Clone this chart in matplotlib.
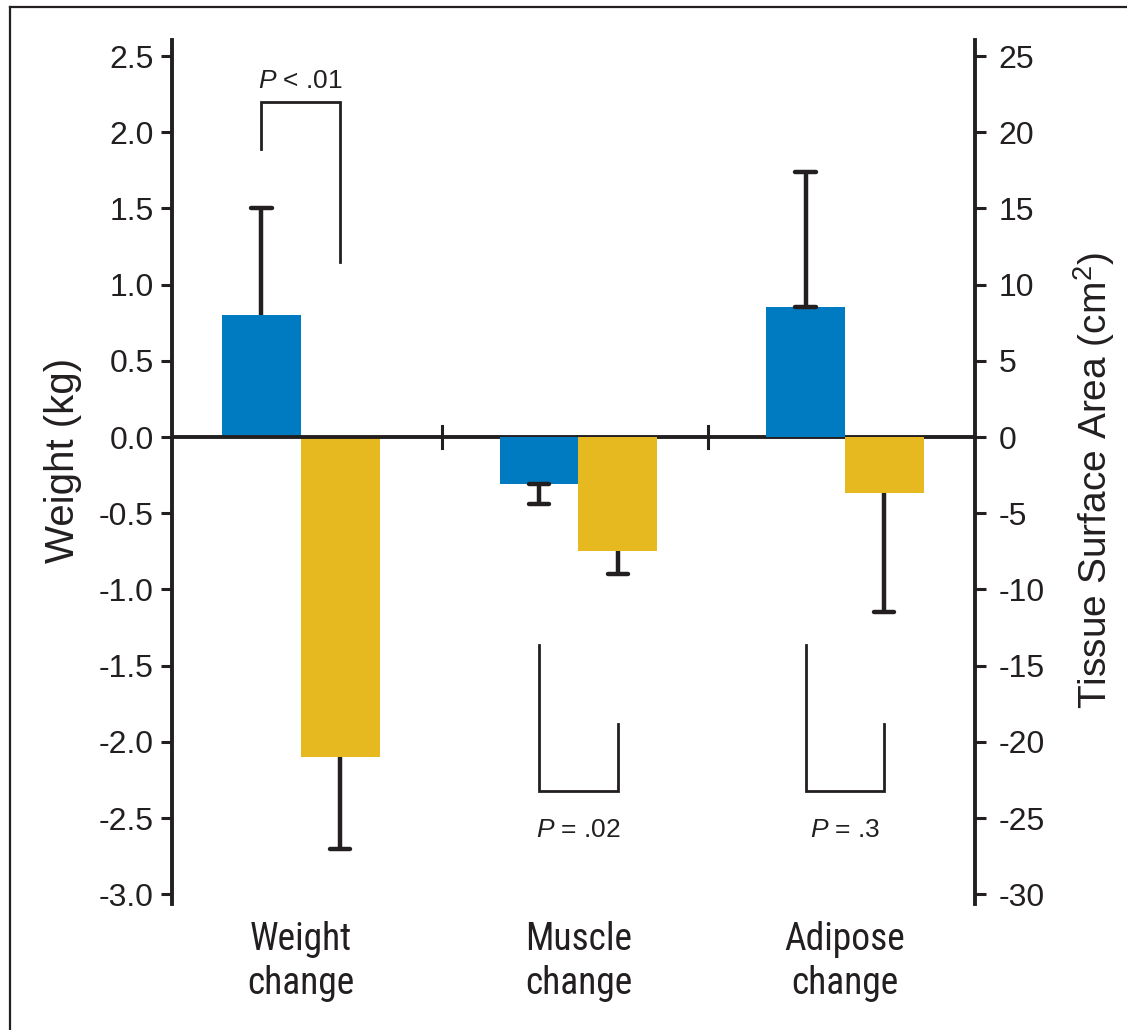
import matplotlib
matplotlib.use("Agg")
import matplotlib.pyplot as plt
from matplotlib.lines import Line2D
from matplotlib import font_manager

# ---- data ----
categories = ["Weight\nchange", "Muscle\nchange", "Adipose\nchange"]
# Weight change (kg, left axis)
weight_blue, weight_blue_err = 0.80, 0.70
weight_yellow, weight_yellow_err = -2.10, 0.60
# Tissue surface area change (cm^2, right axis): muscle, adipose
tissue_blue = [-3.1, 8.5]
tissue_blue_err = [1.3, 8.9]
tissue_yellow = [-7.5, -3.7]
tissue_yellow_err = [1.5, 7.8]
p_labels = ["< .01", "= .02", "= .3"]
left_ticks = [-3.0, -2.5, -2.0, -1.5, -1.0, -0.5, 0.0, 0.5, 1.0, 1.5, 2.0, 2.5]
right_ticks = [-30, -25, -20, -15, -10, -5, 0, 5, 10, 15, 20, 25]

# ---- style ----
BLUE = "#007BC2"
YELLOW = "#E6B920"
INK = "#231F20"
plt.rcParams["font.family"] = ["Liberation Sans", "DejaVu Sans"]
plt.rcParams["mathtext.fontset"] = "custom"
plt.rcParams["mathtext.rm"] = "Liberation Sans"
plt.rcParams["mathtext.it"] = "Liberation Sans:italic"

# use a narrow face for the category labels when one is installed
installed = {f.name for f in font_manager.fontManager.ttflist}
narrow = [n for n in ("Liberation Sans Narrow", "Roboto Condensed", "Open Sans Condensed")
          if n in installed]
cat_family = narrow + ["Liberation Sans", "DejaVu Sans"]
cat_size = 27 if narrow else 25

centers = [0.0, 1.02, 2.0]
half = 0.145
width = 0.29

fig = plt.figure(figsize=(11.27, 10.30), dpi=100)
ax = fig.add_axes([172 / 1127, 1 - 904 / 1030, (975 - 172) / 1127, (904 - 40) / 1030])
ax2 = ax.twinx()

ylo, yhi = -3.064, 2.605
ax.set_ylim(ylo, yhi)
ax2.set_ylim(ylo * 10, yhi * 10)
ax.set_xlim(-0.474, 2.478)

for a in (ax, ax2):
    a.spines["top"].set_visible(False)
    a.spines["bottom"].set_visible(False)
    for s in ("left", "right"):
        a.spines[s].set_linewidth(2.8)
        a.spines[s].set_color(INK)
ax.spines["right"].set_visible(False)
ax2.spines["left"].set_visible(False)

ax.set_yticks(left_ticks)
ax.set_yticklabels([f"{t:.1f}" for t in left_ticks])
ax2.set_yticks(right_ticks)
ax2.set_yticklabels([str(t) for t in right_ticks])
ax.tick_params(axis="y", length=8, width=2.2, color=INK, labelsize=23, labelcolor=INK, pad=5)
ax2.tick_params(axis="y", length=8, width=2.2, color=INK, labelsize=23, labelcolor=INK, pad=9)

ax.set_xticks(centers)
ax.set_xticklabels(categories, fontsize=cat_size, color=INK, linespacing=1.25,
                   family=cat_family)
ax.tick_params(axis="x", length=0, pad=12)

ax.set_ylabel("Weight (kg)", fontsize=29, color=INK)
ax.yaxis.set_label_coords(-0.112, 0.513)
ax2.set_ylabel("Tissue Surface Area (cm$^2$)", fontsize=28, color=INK)
ax2.yaxis.set_label_coords(1.12, 0.49)

# bars
ax.bar(centers[0] - half, weight_blue, width, color=BLUE, zorder=2)
ax.bar(centers[0] + half, weight_yellow, width, color=YELLOW, zorder=2)
ax2.bar([c - half for c in centers[1:]], tissue_blue, width, color=BLUE, zorder=2)
ax2.bar([c + half for c in centers[1:]], tissue_yellow, width, color=YELLOW, zorder=2)

# one-sided error bars pointing away from zero
def err(a, x, y, e, near_cap):
    sign = 1 if y >= 0 else -1
    a.plot([x, x], [y, y + sign * e], color=INK, lw=3.2, zorder=3, solid_capstyle="butt")
    cw = 0.037
    a.plot([x - cw, x + cw], [y + sign * e] * 2, color=INK, lw=3.2, zorder=3, solid_capstyle="round")
    if near_cap:
        a.plot([x - cw, x + cw], [y, y], color=INK, lw=3.2, zorder=3, solid_capstyle="round")

err(ax, centers[0] - half, weight_blue, weight_blue_err, False)
err(ax, centers[0] + half, weight_yellow, weight_yellow_err, False)
err(ax2, centers[1] - half, tissue_blue[0], tissue_blue_err[0], True)
err(ax2, centers[1] + half, tissue_yellow[0], tissue_yellow_err[0], False)
err(ax2, centers[2] - half, tissue_blue[1], tissue_blue_err[1], True)
err(ax2, centers[2] + half, tissue_yellow[1], tissue_yellow_err[1], False)

# zero line and group separators
ax.axhline(0, color=INK, lw=2.8, zorder=4)
for xs in (0.518, 1.496):
    ax.plot([xs, xs], [-0.07, 0.07], color=INK, lw=2.2, zorder=4)

# significance brackets
bl = dict(color=INK, lw=2.0, zorder=3, solid_joinstyle="miter")
c = centers[0]
ax.plot([c - half, c - half, c + half, c + half], [1.89, 2.20, 2.20, 1.15], **bl)
ax.text(c, 2.26, r"$\it{P}$ " + p_labels[0], ha="center", va="bottom", fontsize=19, color=INK)
for c, lab in zip(centers[1:], p_labels[1:]):
    ax2.plot([c - half, c - half, c + half, c + half], [-13.65, -23.2, -23.2, -18.8], **bl)
    ax2.text(c, -25.8, r"$\it{P}$ " + lab, ha="center", va="center", fontsize=19, color=INK)

# outer frame
fx, fy = 10 / 1127, 1 - 7 / 1030
fig.add_artist(Line2D([fx, fx], [0, fy], transform=fig.transFigure, color=INK, lw=1.6))
fig.add_artist(Line2D([fx, 1], [fy, fy], transform=fig.transFigure, color=INK, lw=1.6))

fig.savefig("out.png", dpi=100, facecolor="white")
